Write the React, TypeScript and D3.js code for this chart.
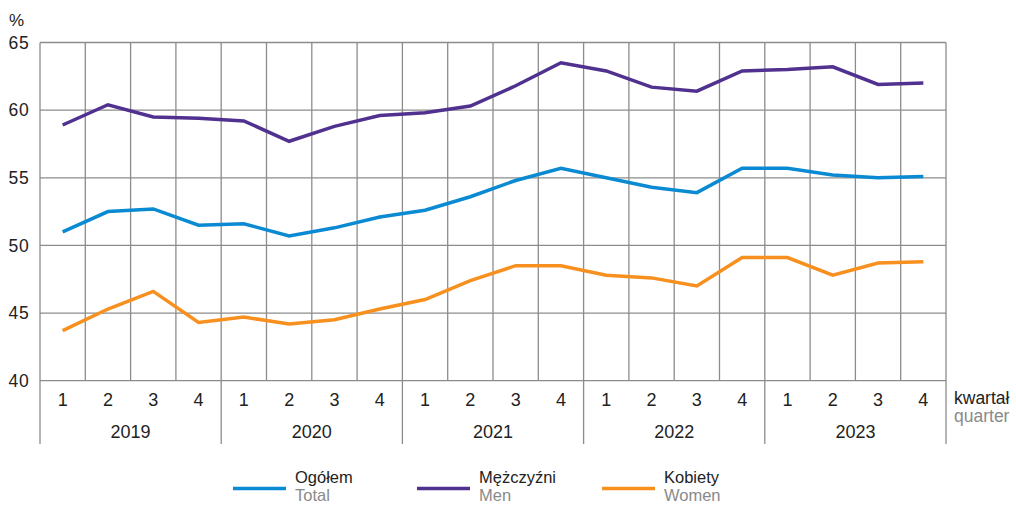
import React from "react";
import * as d3 from "d3";

const years = ["2019", "2020", "2021", "2022", "2023"];
const quarters = ["1", "2", "3", "4"];
const total = [51.0, 52.5, 52.7, 51.5, 51.6, 50.7, 51.3, 52.1, 52.6, 53.6, 54.8, 55.7, 55.0, 54.3, 53.9, 55.7, 55.7, 55.2, 55.0, 55.1];
const men = [58.9, 60.4, 59.5, 59.4, 59.2, 57.7, 58.8, 59.6, 59.8, 60.3, 61.8, 63.5, 62.9, 61.7, 61.4, 62.9, 63.0, 63.2, 61.9, 62.0];
const women = [43.7, 45.3, 46.6, 44.3, 44.7, 44.2, 44.5, 45.3, 46.0, 47.4, 48.5, 48.5, 47.8, 47.6, 47.0, 49.1, 49.1, 47.8, 48.7, 48.8];
const yTicks = [40, 45, 50, 55, 60, 65];

const series = [
  { pl: "Ogółem", en: "Total", values: total, color: "#0a8ad2" },
  { pl: "Mężczyźni", en: "Men", values: men, color: "#51318f" },
  { pl: "Kobiety", en: "Women", values: women, color: "#f7901e" },
];

const W = 1016, H = 505;
const left = 40, right = 946, top = 42.5, bottom = 380.7;
const gridColor = "#8c8c8c";
const font = "'Liberation Sans', Arial, sans-serif";

export default function App() {
  const n = years.length * quarters.length;
  const idx = d3.range(n);
  const xBand = d3.scaleBand<number>().domain(idx).range([left, right]).paddingInner(0).paddingOuter(0);
  const bw = xBand.bandwidth();
  const y = d3.scaleLinear().domain([40, 65]).range([bottom, top]);
  const line = d3.line<number>().x((_, i) => (xBand(i) as number) + bw / 2).y((d) => y(d));

  const legendX = [233, 417, 602];

  return (
    <svg width={W} height={H} style={{ position: "absolute", left: 0, top: 0 }} fontFamily={font}>
      <rect x={0} y={0} width={W} height={H} fill="#fff" />
      {yTicks.map((t) => (
        <line key={"h" + t} x1={left} x2={right} y1={y(t)} y2={y(t)} stroke={gridColor} strokeWidth={1.3} />
      ))}
      {d3.range(n + 1).map((i) => {
        const x = left + i * bw;
        const isYear = i % 4 === 0;
        return (
          <line key={"v" + i} x1={x} x2={x} y1={top} y2={isYear ? 444 : bottom} stroke={gridColor} strokeWidth={1.3} />
        );
      })}
      {yTicks.map((t) => (
        <text key={"yt" + t} x={29.5} y={y(t)} dy="0.36em" textAnchor="end" fontSize={17.5} letterSpacing={0.8} fill="#222">
          {t}
        </text>
      ))}
      <text x={9} y={26} fontSize={17} fill="#222">%</text>
      {idx.map((i) => (
        <text key={"q" + i} x={(xBand(i) as number) + bw / 2} y={405.5} textAnchor="middle" fontSize={18} fill="#222">
          {quarters[i % 4]}
        </text>
      ))}
      {years.map((yr, j) => (
        <text key={yr} x={left + (j * 4 + 2) * bw} y={437.5} textAnchor="middle" fontSize={18} fill="#222">
          {yr}
        </text>
      ))}
      <text x={954} y={403.5} fontSize={17.5} fill="#222">kwartał</text>
      <text x={954} y={422} fontSize={17.5} fill="#8a8a8a">quarter</text>
      {series.map((s) => (
        <path key={s.en} d={line(s.values) || ""} fill="none" stroke={s.color} strokeWidth={3.5} strokeLinejoin="miter" />
      ))}
      {series.map((s, i) => (
        <g key={"lg" + s.en} transform={`translate(${legendX[i]},0)`}>
          <line x1={0} x2={53} y1={488.5} y2={488.5} stroke={s.color} strokeWidth={3.5} />
          <text x={62} y={482.5} fontSize={16.5} fill="#222">{s.pl}</text>
          <text x={62} y={501} fontSize={16.5} fill="#8a8a8a">{s.en}</text>
        </g>
      ))}
    </svg>
  );
}
